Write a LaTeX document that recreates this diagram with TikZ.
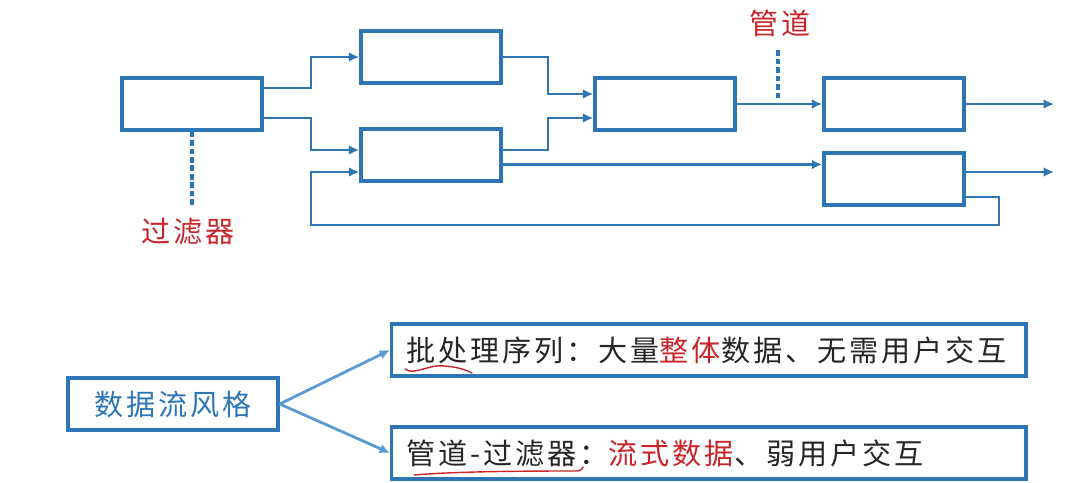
\documentclass[tikz,border=0pt]{standalone}
\usepackage{fontspec}
\usepackage{xcolor}
\usepackage{tikz}
\usetikzlibrary{arrows.meta,positioning,calc}

\newfontfamily\cjk[LetterSpace=10]{Noto Sans CJK SC}
\definecolor{pipeblue}{RGB}{46,117,182}
\definecolor{lightblue}{RGB}{91,155,213}
\definecolor{notered}{RGB}{200,38,42}
\definecolor{textgray}{RGB}{38,38,38}

\begin{document}
\begin{tikzpicture}[
    x=0.025cm, y=-0.025cm,
    every node/.style={font=\cjk\fontsize{20.7}{24}\selectfont, text=textgray},
    filterbox/.style={draw=pipeblue, line width=2.4pt, minimum width=3.5cm, minimum height=1.3cm, inner sep=0pt},
    pipe/.style={draw=pipeblue, line width=2.1pt},
    flow/.style={pipe, -{Latex[length=2.6mm, width=2.4mm]}},
    marker/.style={draw=pipeblue, line width=2.4pt, dash pattern=on 4pt off 2pt},
    stylebox/.style={draw=pipeblue, line width=2.4pt, minimum width=5.25cm, minimum height=1.3cm, text=pipeblue},
    notebox/.style={draw=pipeblue, line width=2.4pt, minimum height=1.3cm, text width=15.1cm, align=left, inner xsep=0.375cm, anchor=west},
    branch/.style={draw=lightblue, line width=2pt, -{Latex[length=2.6mm, width=2.4mm]}},
    scribble/.style={draw=notered, line width=1pt, line cap=round}
]
\useasboundingbox (0,0) rectangle (1080,482);

% Top panel: pipe and filter network
\node[filterbox] (fA)  at (192,104) {};
\node[filterbox] (fB1) at (431,57)  {};
\node[filterbox] (fB2) at (431,155) {};
\node[filterbox] (fC)  at (665,104) {};
\node[filterbox] (fD1) at (894,104) {};
\node[filterbox] (fD2) at (894,179) {};

\coordinate (out1) at (1054,104);
\coordinate (out2) at (1054,172);

\draw[flow] ($(fA.east)+(0,-16)$) -| (311,57) -- (fB1.west);
\draw[flow] ($(fA.east)+(0,14)$) -| (311,150) -- ($(fB2.west)+(0,-5)$);
\draw[flow] (fB1.east) -| (548,94) -- ($(fC.west)+(0,-10)$);
\draw[flow] ($(fB2.east)+(0,-5)$) -| (548,118) -- ($(fC.west)+(0,14)$);
\draw[flow] (fC.east) -- (fD1.west);
\draw[flow] ($(fB2.east)+(0,9.5)$) -- ($(fD2.west)+(0,-14.5)$);
\draw[flow] (fD1.east) -- (out1);
\draw[flow] ($(fD2.east)+(0,-7)$) -- (out2);
\draw[flow] ($(fD2.east)+(0,18)$) -| (999,225) -| (311,172) -- ($(fB2.west)+(0,17)$);

% labels
\node[text=notered] (lblfilter) at (188,232) {过滤器};
\node[text=notered] (lblpipe) at (780,23) {管道};
\draw[marker] (fA.south) -- ($(lblfilter.north)+(4,-6)$);
\draw[marker] ($(lblpipe.south)+(-2,9)$) -- ++(0,49);

% Bottom panel: data flow styles
\node[stylebox] (dfs) at (173,404) {数据流风格};
\node[notebox] (batch) at (390,350) {批处理序列：大量\textcolor{notered}{整体}数据、无需用户交互};
\node[notebox] (pf) at (390,453) {管道-过滤器：\textcolor{notered}{流式数据}、弱用户交互};

\draw[branch] (dfs.east) -- (batch.west);
\draw[branch] (dfs.east) -- (pf.west);

\draw[scribble] (405,369) .. controls (414,376) and (428,364) .. (445,366)
    .. controls (458,367) and (466,370) .. (472,373);
\draw[scribble] (414,475) .. controls (460,471) and (540,471) .. (578,471)
    .. controls (581,470) .. (583,467);

\end{tikzpicture}
\end{document}
